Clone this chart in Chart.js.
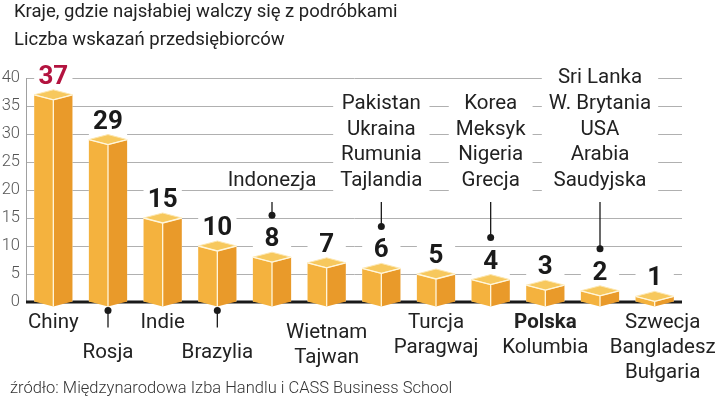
<!DOCTYPE html>
<html>
<head>
<meta charset="utf-8">
<script src="https://cdn.jsdelivr.net/npm/chart.js@4/dist/chart.umd.min.js"></script>
<style>
  body { margin: 0; background: #fff; }
  canvas { display: block; }
</style>
</head>
<body>
<canvas id="myChart" width="720" height="398"></canvas>
<script>
// DATA
const categories = ['Chiny', 'Rosja', 'Indie', 'Brazylia', 'Indonezja', 'Wietnam',
  'Pakistan', 'Turcja', 'Korea', 'Polska', 'Sri Lanka', 'Szwecja'];
const scores = [37, 29, 15, 10, 8, 7, 6, 5, 4, 3, 2, 1];
const labelsBelow = [['Chiny'], ['Rosja'], ['Indie'], ['Brazylia'], [], ['Wietnam', 'Tajwan'],
  [], ['Turcja', 'Paragwaj'], [], ['Polska', 'Kolumbia'], [], ['Szwecja', 'Bangladesz', 'Bułgaria']];
const labelsAbove = [[], [], [], [], ['Indonezja'], [],
  ['Pakistan', 'Ukraina', 'Rumunia', 'Tajlandia'], [], ['Korea', 'Meksyk', 'Nigeria', 'Grecja'],
  [], ['Sri Lanka', 'W. Brytania', 'USA', 'Arabia', 'Saudyjska'], []];
const boldLabels = ['Polska'];
const yTicks = { min: 0, max: 40, step: 5 };
const title = ['Kraje, gdzie najsłabiej walczy się z podróbkami', 'Liczba wskazań przedsiębiorców'];
const source = 'źródło: Międzynarodowa Izba Handlu i CASS Business School';

// layout tweaks for the labels under the bars
const belowShift = { 1: 30, 3: 30, 5: 10 };
const belowNudge = { 11: 8 };
const pinned = [1, 3];
const FONT = 'Roboto';

function dot(ctx, x, y) {
  ctx.beginPath();
  ctx.arc(x, y, 3.5, 0, Math.PI * 2);
  ctx.fillStyle = '#1a1a1a';
  ctx.fill();
}

const box3d = {
  id: 'box3d',
  beforeDatasetsDraw(chart) {
    const ctx = chart.ctx, area = chart.chartArea, ys = chart.scales.y;
    const bars = chart.getDatasetMeta(0).data;
    const zero = ys.getPixelForValue(0);
    ctx.save();
    // thick zero line
    ctx.strokeStyle = '#1a1a1a';
    ctx.lineWidth = 3;
    ctx.beginPath();
    ctx.moveTo(area.left, zero);
    ctx.lineTo(area.right, zero);
    ctx.stroke();
    // white columns behind bars and values
    ctx.fillStyle = '#fff';
    bars.forEach(b => {
      const top = b.y - 11 - 21;
      ctx.fillRect(b.x - b.width / 2, top, b.width, b.base - top);
    });
    // white boxes behind label blocks
    const lastRow = ys.getPixelForValue(20) - 9;
    ctx.font = '20.5px ' + FONT;
    labelsAbove.forEach((lines, i) => {
      if (lines.length < 2) return;
      const b = bars[i];
      const w = Math.max(...lines.map(s => ctx.measureText(s).width)) + 14;
      const top = lastRow - (lines.length - 1) * 25.75 - 12;
      ctx.fillRect(b.x - w / 2, top, w, lastRow + 14 - top);
    });
    ctx.restore();
  },
  afterDatasetsDraw(chart) {
    const ctx = chart.ctx, ys = chart.scales.y;
    const bars = chart.getDatasetMeta(0).data;
    const lastRow = ys.getPixelForValue(20) - 9;
    ctx.save();
    bars.forEach((b, i) => {
      const x = b.x, y = b.y, base = b.base, h = b.width / 2, d = 5;
      const L = x - h, R = x + h;
      // left face
      ctx.beginPath();
      ctx.moveTo(L, y); ctx.lineTo(x, y + d); ctx.lineTo(x, base + d); ctx.lineTo(L, base);
      ctx.closePath();
      ctx.fillStyle = '#f4b23e'; ctx.fill();
      // right face
      ctx.beginPath();
      ctx.moveTo(x, y + d); ctx.lineTo(R, y); ctx.lineTo(R, base); ctx.lineTo(x, base + d);
      ctx.closePath();
      ctx.fillStyle = '#e99a2a'; ctx.fill();
      // top
      ctx.beginPath();
      ctx.moveTo(L, y); ctx.lineTo(x, y + d); ctx.lineTo(R, y); ctx.lineTo(x, y - d);
      ctx.closePath();
      ctx.fillStyle = '#f7c85d'; ctx.fill();
      ctx.strokeStyle = '#fde7b0'; ctx.lineWidth = 1; ctx.stroke();
      // light front edges
      ctx.beginPath();
      ctx.moveTo(L, y); ctx.lineTo(x, y + d); ctx.lineTo(R, y);
      ctx.moveTo(x, y + d); ctx.lineTo(x, base + d);
      ctx.strokeStyle = '#fff6dc'; ctx.lineWidth = 1.3; ctx.stroke();

      // value
      ctx.font = 'bold 26px ' + FONT;
      ctx.textAlign = 'center';
      ctx.textBaseline = 'alphabetic';
      ctx.fillStyle = i === 0 ? '#b3133f' : '#1a1a1a';
      ctx.fillText(scores[i], x, y - 11);

      // labels above with leader
      const above = labelsAbove[i];
      if (above.length) {
        ctx.font = '20.5px ' + FONT;
        ctx.fillStyle = '#222';
        ctx.textBaseline = 'middle';
        above.forEach((s, k) => {
          ctx.fillText(s, x, lastRow - (above.length - 1 - k) * 25.75);
        });
        const dotY = y - 11 - 18 - 13;
        ctx.beginPath();
        ctx.moveTo(x, lastRow + 21);
        ctx.lineTo(x, dotY);
        ctx.strokeStyle = '#1a1a1a'; ctx.lineWidth = 1.3; ctx.stroke();
        dot(ctx, x, dotY);
      }

      // labels below
      const below = labelsBelow[i];
      if (below.length) {
        const start = base + 21 + (belowShift[i] || 0);
        const lx = x + (belowNudge[i] || 0);
        ctx.textBaseline = 'middle';
        ctx.fillStyle = '#222';
        below.forEach((s, k) => {
          ctx.font = (boldLabels.includes(s) ? 'bold ' : '') + '20.5px ' + FONT;
          ctx.fillText(s, lx, start + k * 25);
        });
      }
      if (pinned.includes(i)) {
        ctx.beginPath();
        ctx.moveTo(x, base + 9); ctx.lineTo(x, base + 26);
        ctx.strokeStyle = '#1a1a1a'; ctx.lineWidth = 1.3; ctx.stroke();
        dot(ctx, x, base + 9);
      }
    });

    // title and source
    ctx.textAlign = 'left';
    ctx.textBaseline = 'alphabetic';
    ctx.fillStyle = '#222';
    ctx.font = '18.5px ' + FONT;
    ctx.fillText(title[0], 14, 17);
    ctx.fillText(title[1], 14, 45);
    ctx.fillStyle = '#333';
    ctx.font = '300 16.5px ' + FONT;
    ctx.fillText(source, 10, 393);
    ctx.restore();
  }
};

const config = {
  type: 'bar',
  data: {
    labels: categories,
    datasets: [{
      data: scores,
      backgroundColor: 'rgba(0,0,0,0)',
      barPercentage: 0.7,
      categoryPercentage: 1
    }]
  },
  options: {
    responsive: false,
    animation: false,
    events: [],
    layout: { padding: { top: 78, right: 38, bottom: 96, left: 0 } },
    plugins: { legend: { display: false }, tooltip: { enabled: false } },
    scales: {
      x: { display: false },
      y: {
        min: yTicks.min,
        max: yTicks.max,
        ticks: {
          stepSize: yTicks.step,
          padding: 6,
          color: '#555',
          font: { family: FONT, size: 16.5, weight: '300' }
        },
        grid: { color: '#b0b0b0', lineWidth: 1, drawTicks: false },
        border: { display: true, color: '#a0a0a0' },
        afterFit(scale) { scale.width = 26; }
      }
    }
  },
  plugins: [box3d]
};

const myChart = new Chart('myChart', config);
</script>
</body>
</html>
